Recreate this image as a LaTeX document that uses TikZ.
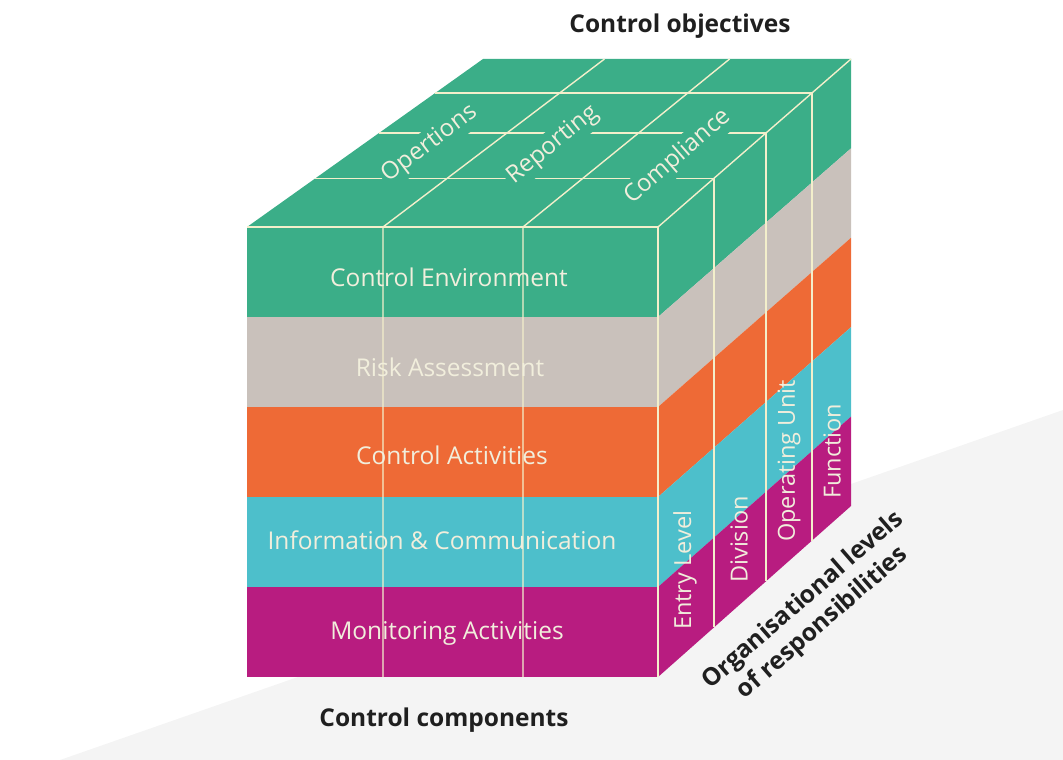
\documentclass[tikz,border=0pt]{standalone}
\usepackage{fontspec}
\setmainfont{Open Sans}
\usetikzlibrary{calc}
\definecolor{cgreen}{HTML}{3BAE88}
\definecolor{cgrey}{HTML}{C9C1BB}
\definecolor{corange}{HTML}{EE6A36}
\definecolor{ccyan}{HTML}{4DBFCB}
\definecolor{cmag}{HTML}{B81C80}
\definecolor{cline}{HTML}{F3EFCB}
\definecolor{ctext}{HTML}{F1EEDC}
\definecolor{cfloor}{HTML}{F4F4F4}
\begin{document}
\begin{tikzpicture}[x=1pt,y=-1pt,
  gridline/.style={draw=cline,line width=1.4pt},
  fronttext/.style={text=ctext,font=\fontsize{24.5}{29}\selectfont,inner sep=0pt},
  sidetext/.style={text=ctext,font=\fontsize{23.5}{28}\selectfont,inner sep=0pt,rotate=90,anchor=west},
  toptext/.style={text=ctext,font=\fontsize{24}{28}\selectfont,fill=cgreen,inner sep=3pt},
  lab/.style={text=black!88,font=\bfseries\fontsize{24.5}{30}\selectfont,inner sep=0pt}]
\path[use as bounding box] (0,0) rectangle (1063,760);
% faint floor
\fill[cfloor] (60,760) -- (1063,410) -- (1063,760) -- cycle;
% corners
\coordinate (FTL) at (247,227);
\coordinate (FTR) at (658,227);
\coordinate (FBL) at (247,677);
\coordinate (FBR) at (658,677);
\coordinate (BTL) at (483,59);
\coordinate (BTR) at (851,59);
\coordinate (BBR) at (851,506);
% bands, front and right
\foreach \c [count=\i from 0] in {cgreen,cgrey,corange,ccyan,cmag}{
  \fill[\c] (247,227+90*\i) rectangle (658.5,317+90*\i);
  \fill[\c] (658,227+90*\i) -- (851,59+89.4*\i) -- (851,148.4+89.4*\i) -- (658,317+90*\i) -- cycle;
}
% top face
\fill[cgreen] (FTL) -- (FTR) -- (BTR) -- (BTL) -- cycle;
% grid lines
\coordinate (D1f) at (383,227);
\coordinate (D2f) at (523,227);
\coordinate (D1b) at (604.5,59);
\coordinate (D2b) at (729.6,59);
\coordinate (D1d) at (383,677);
\coordinate (D2d) at (523,677);
\draw[gridline] (FTL) -- (FTR) -- (FBR);
\draw[gridline] (FTR) -- (BTR);
\draw[gridline] (D1b) -- (D1f) -- (D1d);
\draw[gridline] (D2b) -- (D2f) -- (D2d);
\foreach \f in {0.29,0.56,0.798}{
  \draw[gridline] ($(FTL)!\f!(BTL)$) -- ($(FTR)!\f!(BTR)$) -- ($(FBR)!\f!(BBR)$);
}
% top texts
\node[toptext,rotate=37] (ops) at (430,144) {Opertions};
\node[toptext,rotate=39] (rep) at (553,145) {Reporting};
\node[toptext,rotate=41] (comp3) at (678,157) {Compliance};
% front texts
\node[fronttext] (ce) at (449,277) {Control Environment};
\node[fronttext] (ra) at (450,367) {Risk Assessment};
\node[fronttext] (ca) at (452,455) {Control Activities};
\node[fronttext] (ic) at (442,540) {Information \& Communication};
\node[fronttext] (ma) at (447,633) {Monitoring Activities};
% side texts
\node[sidetext] (el) at (685,630) {Entry Level};
\node[sidetext] (dv) at (739,583) {Division};
\node[sidetext] (ou) at (789,542) {Operating Unit};
\node[sidetext] (fn) at (832,499) {Function};
% labels
\node[lab] (obj) at (680,26) {Control objectives};
\node[lab] (ccomp) at (444,720) {Control components};
\node[lab,rotate=41,align=center] (org) at (813,612) {Organisational levels\\of responsibilities};
\end{tikzpicture}
\end{document}
